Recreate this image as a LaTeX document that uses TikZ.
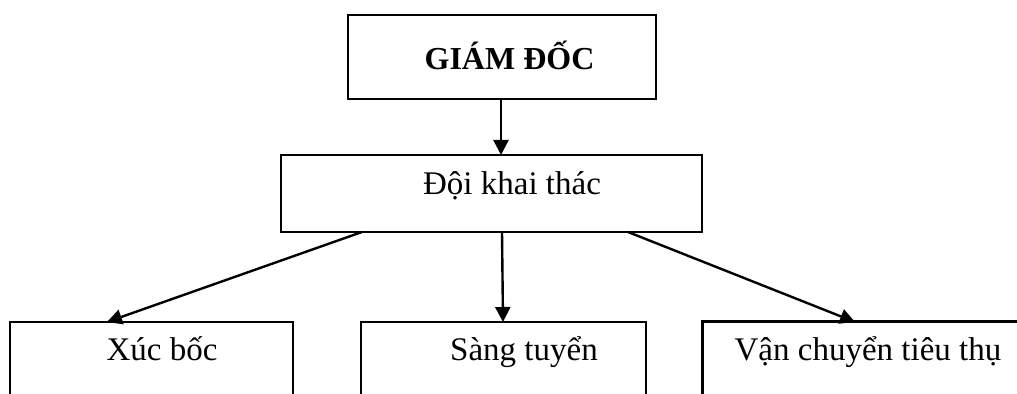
\documentclass[tikz,border=0pt]{standalone}
\usepackage{fontspec}
\setmainfont{Liberation Serif}
\usetikzlibrary{arrows.meta,calc}
\tikzset{
  box/.style={draw, line width=1pt, rectangle, inner sep=0pt, outer sep=0pt, anchor=north west},
  txt/.style={anchor=base, inner sep=0pt, font=\fontsize{16.5pt}{19pt}\selectfont},
  arr/.style={line width=1.2pt, -{Triangle[length=7.5pt,width=7.5pt]}}
}
\begin{document}
\begin{tikzpicture}[x=0.5pt,y=-0.5pt]
\useasboundingbox (0,0) rectangle (1017,394);
\clip (0,0) rectangle (1017,394);
% boxes
\node[box, minimum width=154pt, minimum height=42pt] (gd) at (348,15) {};
\node[box, minimum width=210.5pt, minimum height=38.5pt] (dk) at (281,155) {};
\node[box, minimum width=141.5pt, minimum height=60pt] (xb) at (10,322) {};
\node[box, minimum width=142.5pt, minimum height=60pt] (st) at (361,322) {};
\node[box, line width=1.5pt, minimum width=200pt, minimum height=60pt] (vc) at (702,322) {};
% texts
\node[txt, font=\fontsize{16pt}{19pt}\selectfont\bfseries] (tgd) at (509.5,70) {GIÁM ĐỐC};
\node[txt] (tdk) at (512,195) {Đội khai thác};
\node[txt] (txb) at (162,361) {Xúc bốc};
\node[txt] (tst) at (524,361) {Sàng tuyển};
\node[txt] (tvc) at (868,361) {Vận chuyển tiêu thụ};
% connectors
\draw[arr] ($(gd.south west)+(153,0)$) -- ($(dk.north west)+(220,0)$);
\draw[arr] ($(dk.south west)+(81,0)$) -- ($(xb.north west)+(97,0)$);
\draw[arr] ($(dk.south west)+(221,0)$) -- ($(st.north west)+(142,0)$);
\draw[arr] ($(dk.south west)+(347,0)$) -- ($(vc.north west)+(153,0)$);
\end{tikzpicture}
\end{document}
